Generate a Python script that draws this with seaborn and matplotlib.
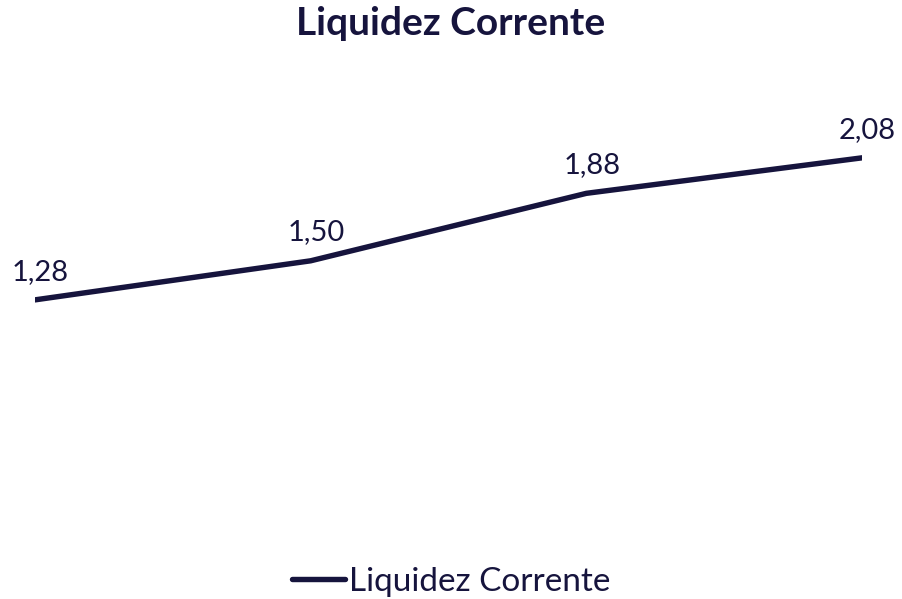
import matplotlib
matplotlib.use("Agg")
import matplotlib.pyplot as plt
import pandas as pd
import seaborn as sns

# dados do gráfico
periodos = ["P1", "P2", "P3", "P4"]
liquidez = [1.28, 1.50, 1.88, 2.08]
rotulos = ["1,28", "1,50", "1,88", "2,08"]
serie = "Liquidez Corrente"

cor = "#16143d"

sns.set_theme(style="white")
plt.rcParams["font.family"] = ["Lato", "DejaVu Sans"]

df = pd.DataFrame({"periodo": range(len(periodos)), "valor": liquidez, "serie": serie})

fig = plt.figure(figsize=(9.02, 5.99), dpi=100)
ax = fig.add_axes([35 / 902, 0.12, (862 - 35) / 902, 0.741])

sns.lineplot(data=df, x="periodo", y="valor", hue="serie", palette=[cor],
             linewidth=3.9, ax=ax, solid_capstyle="round", solid_joinstyle="round")

for i, (v, txt) in enumerate(zip(liquidez, rotulos)):
    ax.annotate(txt, (i, v), xytext=(4, 11), textcoords="offset points",
                ha="center", va="bottom", fontsize=21, color=cor)

ax.set_xlim(0, len(periodos) - 1)
ax.set_ylim(0, 2.5)
ax.set_xlabel("")
ax.set_ylabel("")
ax.set_xticks([])
ax.set_yticks([])
for s in ax.spines.values():
    s.set_visible(False)

fig.suptitle(serie, y=0.99, fontsize=28, fontweight="bold", color=cor)

leg = ax.legend(loc="center", bbox_to_anchor=(0.5, 1 - 582 / 599), bbox_transform=fig.transFigure,
                frameon=False, fontsize=24, handlelength=1.6, handletextpad=0.1,
                labelcolor=cor, borderpad=0)
for h in leg.get_lines():
    h.set_linewidth(3.9)

fig.savefig("out.png", dpi=100, facecolor="white")
